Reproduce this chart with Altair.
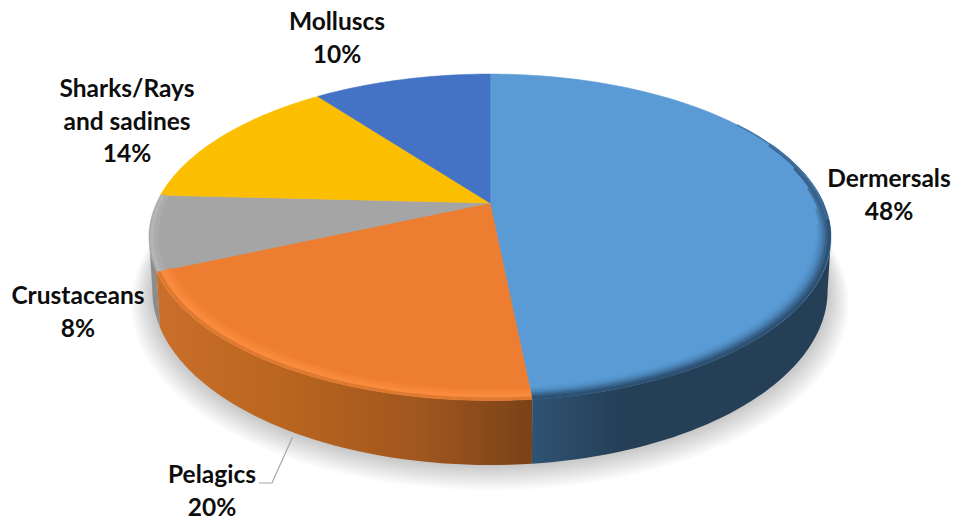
import math
import altair as alt
import pandas as pd

# Slice order clockwise from 12 o'clock; shares as read from the slice edges
categories = ["Dermersals", "Pelagics", "Crustaceans", "Sharks/Rays and sadines", "Molluscs"]
shares = [48.4, 20.0, 7.4, 13.9, 10.3]
top_colors = ["#5B9BD5", "#ED7D31", "#A5A5A5", "#FBBE00", "#4472C4"]
label_lines = [["Dermersals", "48%"], ["Pelagics", "20%"], ["Crustaceans", "8%"],
               ["Sharks/Rays", "and sadines", "14%"], ["Molluscs", "10%"]]
label_x = [889, 212, 78, 127, 337]
label_y = [180, 476, 297, 90, 23]
line_step = 32.5

# Camera model of the tilted disc
CX, CY, A, B, K, DEPTH, SHRINK = 490, 203, 156, 333.4, 0.21, 51, 0.99
W, H = 943, 511


def rim(theta, r=1.0, drop=0.0, shrink=1.0, dy=0.0):
    t = math.radians(theta)
    X, Y = r * math.sin(t), r * math.cos(t)
    den = 1 + K * Y
    return CX + B * X / den * shrink, CY - (A * Y - drop) / den + dy


def sweep(a, b, **kw):
    n = max(2, int(abs(b - a) / 1.5))
    return [rim(a + (b - a) * i / n, **kw) for i in range(n + 1)]


edges = [0.0]
for s in shares:
    edges.append(edges[-1] + s * 3.6)
edges[-1] = 360.0
LEFT, RIGHT = 257.9, 102.1


def table(pts, **cols):
    return pd.DataFrame([dict(x=p[0], y=p[1], i=i, **cols) for i, p in enumerate(pts)])


x_enc = alt.X("x:Q", scale=alt.Scale(domain=[8, 8 + W]), axis=None)
y_enc = alt.Y("y:Q", scale=alt.Scale(domain=[8 + H, 8]), axis=None)


def poly(df, **mark):
    return alt.Chart(df).mark_line(interpolate="linear-closed", **mark).encode(
        x=x_enc, y=y_enc, order="i:Q", detail="g:N")


layers = []

# soft shadow under the disc
for j in range(14):
    r = 1.06 - j * 0.0045
    dy = 9 - j * 0.65
    pts = sweep(70, 290, r=r, drop=DEPTH, shrink=SHRINK, dy=dy)
    layers.append(poly(table(pts, g=f"s{j}"), fill="#000000", fillOpacity=0.016, stroke=None, strokeWidth=0))


def grad(stops):
    return alt.Gradient(gradient="linear", x1=0, x2=1, y1=0, y2=0,
                        stops=[alt.GradientStop(offset=o, color=c) for o, c in stops])


def wall(a, b, fill, name):
    pts = sweep(a, b) + sweep(b, a, drop=DEPTH, shrink=SHRINK)
    return poly(table(pts, g=name), fill=fill, stroke=None, strokeWidth=0)


layers.append(wall(edges[2], LEFT, "#8C8C8C", "wg"))
layers.append(wall(edges[1], edges[2], grad([(0, "#C96F2B"), (.35, "#B9651F"), (.7, "#A0561F"), (1, "#7A4217")]), "wo"))
layers.append(wall(RIGHT, edges[1], grad([(0, "#2F5373"), (.3, "#253F57"), (1, "#243F56")]), "wb"))

# top faces
for i, c in enumerate(top_colors):
    pts = [(CX, CY)] + sweep(edges[i], edges[i + 1])
    layers.append(poly(table(pts, g=f"t{i}"), fill=c, stroke=c, strokeWidth=0.6))

# bevel bands along the front rim, inner band first
bands = [
    (104, edges[1], 0.962, "#5797CF", 6.0),
    (98, edges[1], 0.970, "#5190C6", 6.0),
    (92, edges[1], 0.977, "#4A84B8", 6.0),
    (84, edges[1], 0.984, "#4173A2", 5.5),
    (76, edges[1], 0.990, "#38628A", 5.0),
    (66, 102, 0.995, "#3A658E", 3.5),
    (56, 90, 0.999, "#4579A8", 1.5),
    (96, edges[1], 0.995, "#2E5273", 3.5),
    (edges[1], edges[2], 0.962, "#EF7F33", 6.0),
    (edges[1], edges[2], 0.970, "#F28337", 6.0),
    (edges[1], edges[2], 0.978, "#F6873A", 6.0),
    (edges[1], edges[2], 0.985, "#FA8B3D", 5.0),
    (edges[1], edges[2], 0.994, "#DE7A30", 3.0),
    (edges[2], edges[3], 0.982, "#ABABAB", 6.0),
    (edges[2], edges[3], 0.992, "#B4B4B4", 4.0),
]
frames = []
for j, (a, b, r, c, w) in enumerate(bands):
    frames.append(table(sweep(a, b, r=r), g=f"b{j:02d}", c=c, w=w))
layers.append(alt.Chart(pd.concat(frames)).mark_line(strokeCap="butt").encode(
    x=x_enc, y=y_enc, order="i:Q", detail="g:N",
    color=alt.Color("c:N", scale=None), strokeWidth=alt.StrokeWidth("w:Q", scale=None)))

# leader line of the Pelagics label
anchor = rim(edges[1] + 35, drop=DEPTH, shrink=SHRINK)
leader = [(anchor[0], anchor[1] + 5), (272, 483), (259, 483)]
layers.append(alt.Chart(table(leader, g="l")).mark_line(color="#A6A6A6", strokeWidth=1.2).encode(
    x=x_enc, y=y_enc, order="i:Q"))

# labels
rows = []
for lines, lx, ly in zip(label_lines, label_x, label_y):
    for n, t in enumerate(lines):
        rows.append(dict(x=lx, y=ly + n * line_step, t=t))
layers.append(alt.Chart(pd.DataFrame(rows)).mark_text(
    font="Lato", fontWeight="bold", fontSize=24.5, color="#0D0D0D", align="center", baseline="middle"
).encode(x=x_enc, y=y_enc, text="t:N"))

chart = alt.layer(*layers).properties(width=W, height=H, padding=0, autosize=alt.AutoSizeParams(type="none")).configure_view(stroke=None)
chart.save("out.html", embed_options={"renderer": "svg", "actions": False})
